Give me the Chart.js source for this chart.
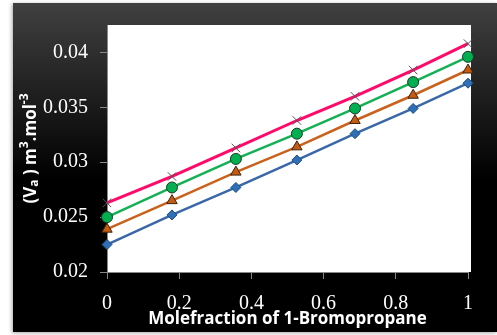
<!DOCTYPE html>
<html>
<head>
<meta charset="utf-8">
<script src="https://cdn.jsdelivr.net/npm/chart.js@4.4.1/dist/chart.umd.min.js"></script>
<style>
  html, body { margin: 0; padding: 0; background: #ffffff; }
  #wrap { width: 497px; height: 335px; }
</style>
</head>
<body>
<div id="wrap"><canvas id="chart" width="497" height="335"></canvas></div>
<script>
// mole fraction of 1-bromopropane
const moleFractions = [0, 0.18, 0.357, 0.526, 0.687, 0.848, 1];

// Va values for the four series
const seriesBlue   = [0.0225, 0.0252, 0.0277, 0.0302, 0.0326, 0.0349, 0.0372];
const seriesOrange = [0.0239, 0.0265, 0.0291, 0.0314, 0.0338, 0.0361, 0.0384];
const seriesGreen  = [0.0250, 0.0277, 0.0303, 0.0326, 0.0349, 0.0373, 0.0396];
const seriesPink   = [0.0263, 0.0287, 0.0313, 0.0338, 0.0360, 0.0384, 0.0408];

const xTicks = [0, 0.2, 0.4, 0.6, 0.8, 1];
const yTicks = [0.02, 0.025, 0.03, 0.035, 0.04];

// y title pieces: [text, kind] kind: n normal, sub, sup
const yTitleParts = [["(V", "n"], ["a", "sub"], [" ) m", "n"], ["3", "sup"], [".mol", "n"], ["-3", "sup"]];

const titleFont = "'Open Sans', 'Liberation Sans', sans-serif";

function points(ys) {
    return moleFractions.map((x, i) => ({ x: x, y: ys[i] }));
}

// dark frame + white plot area
const framePlugin = {
    id: "frame",
    beforeDraw(chart) {
        const ctx = chart.ctx;
        const a = chart.chartArea;
        ctx.save();
        ctx.fillStyle = "#ffffff";
        ctx.fillRect(0, 0, chart.width, chart.height);
        ctx.shadowColor = "rgba(0,0,0,0.35)";
        ctx.shadowBlur = 4;
        ctx.shadowOffsetX = -1;
        ctx.shadowOffsetY = 1;
        const g = ctx.createLinearGradient(0, 3, 0, 180);
        g.addColorStop(0, "#404040");
        g.addColorStop(1, "#000000");
        ctx.fillStyle = g;
        ctx.fillRect(13, 3, 484, 329);
        ctx.shadowColor = "transparent";
        ctx.fillStyle = "#ffffff";
        ctx.fillRect(a.left, a.top, a.right - a.left + 3, a.bottom - a.top);
        ctx.restore();
    },
    afterDraw(chart) {
        // rotated y axis title with sub/superscripts
        const ctx = chart.ctx;
        const a = chart.chartArea;
        const big = "bold 17px " + titleFont;
        const small = "bold 12px " + titleFont;
        ctx.save();
        let total = 0;
        yTitleParts.forEach(p => {
            ctx.font = p[1] === "n" ? big : small;
            total += ctx.measureText(p[0]).width;
        });
        ctx.translate(31, (a.top + a.bottom) / 2);
        ctx.rotate(-Math.PI / 2);
        ctx.fillStyle = "#ffffff";
        ctx.textBaseline = "middle";
        let x = -total / 2;
        yTitleParts.forEach(p => {
            ctx.font = p[1] === "n" ? big : small;
            const dy = p[1] === "sub" ? 4 : (p[1] === "sup" ? -6 : 0);
            ctx.fillText(p[0], x, dy);
            x += ctx.measureText(p[0]).width;
        });
        ctx.restore();
    }
};

function lineSet(label, data, color, style, fill, border, radius, width) {
    return {
        label: label,
        data: points(data),
        borderColor: color,
        borderWidth: width,
        pointStyle: style,
        pointRadius: radius,
        pointBackgroundColor: fill,
        pointBorderColor: border,
        pointBorderWidth: 1,
        tension: 0,
        clip: false
    };
}

new Chart(document.getElementById("chart"), {
    type: "line",
    data: {
        datasets: [
            lineSet("Series 1", seriesBlue, "#3a67a8", "rectRot", "#2e6fb8", "#1f4e79", 5, 2.5),
            lineSet("Series 2", seriesOrange, "#c8621c", "triangle", "#c55a11", "#3a2410", 6, 2.5),
            lineSet("Series 3", seriesGreen, "#14b054", "circle", "#00b050", "#1c3a24", 5.5, 2.5),
            lineSet("Series 4", seriesPink, "#ff0a6a", "crossRot", "#555555", "#555555", 6, 3)
        ]
    },
    options: {
        responsive: false,
        animation: false,
        layout: { padding: { left: 13, top: 25, right: 29, bottom: 0 } },
        plugins: {
            legend: { display: false },
            tooltip: { enabled: false }
        },
        scales: {
            x: {
                type: "linear",
                min: 0,
                max: 1,
                afterFit: s => { s.height = 63; },
                afterBuildTicks: s => { s.ticks = xTicks.map(v => ({ value: v })); },
                grid: { drawOnChartArea: false, tickLength: 7, color: "#888888" },
                border: { color: "#888888" },
                ticks: {
                    color: "#ffffff",
                    padding: 13,
                    font: { family: "'Liberation Serif', serif", size: 20 },
                    callback: v => String(v)
                },
                title: {
                    display: true,
                    text: "Molefraction of 1-Bromopropane",
                    color: "#ffffff",
                    padding: { top: 0, bottom: 6 },
                    font: { family: titleFont, size: 17, weight: "bold" }
                }
            },
            y: {
                min: 0.02,
                max: 0.0425,
                afterFit: s => { s.width = 94; },
                afterBuildTicks: s => { s.ticks = yTicks.map(v => ({ value: v })); },
                grid: { drawOnChartArea: false, tickLength: 7, color: "#888888" },
                border: { color: "#888888" },
                ticks: {
                    color: "#ffffff",
                    padding: 12,
                    font: { family: "'Liberation Serif', serif", size: 20 },
                    callback: v => String(v)
                },
                title: { display: false }
            }
        }
    },
    plugins: [framePlugin]
});
</script>
</body>
</html>
